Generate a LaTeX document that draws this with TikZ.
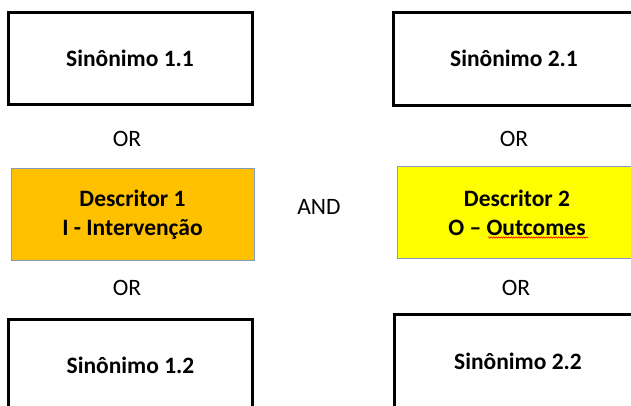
\documentclass[tikz,border=0pt]{standalone}
\usepackage{fontspec}
\setmainfont{Carlito}
\usetikzlibrary{decorations.pathmorphing}
\definecolor{descorange}{HTML}{FFC000}
\definecolor{descyellow}{HTML}{FFFF00}
\definecolor{descborder}{HTML}{8499BD}
\tikzset{
  synbox/.style={draw=black, line width=3pt, fill=white, minimum width=244pt, minimum height=92pt,
    inner sep=0pt, font=\fontsize{23.5}{28}\selectfont\bfseries, align=center},
  descbox/.style={draw=descborder, line width=1pt, minimum width=243pt, minimum height=92pt,
    inner sep=0pt, font=\fontsize{23.5}{29}\selectfont\bfseries, align=center},
  oplabel/.style={font=\fontsize{23.5}{28}\selectfont, inner sep=0pt}
}
\begin{document}
\begin{tikzpicture}[x=1pt,y=-1pt]
\useasboundingbox (0,0) rectangle (631,405);
\clip (0,0) rectangle (631,405);
\fill[white] (0,0) rectangle (631,405);
\node[synbox] (s11) at (130,58.5) {Sinônimo 1.1};
\node[synbox, minimum width=241pt, minimum height=93pt] (s21) at (514,58.5) {Sinônimo 2.1};
\node[descbox, fill=descorange] (d1) at (132.5,214.5) {Descritor 1\\I - Intervenção};
\node[descbox, fill=descyellow, minimum width=240pt] (d2) at (517,212.5) {Descritor 2\\O -- Outcomes};
\node[synbox] (s12) at (130.5,365) {Sinônimo 1.2};
\node[synbox, minimum width=247pt, minimum height=93pt] (s22) at (518,361) {Sinônimo 2.2};
\node[oplabel] (or1) at (127,139) {OR};
\node[oplabel] (or2) at (514,139) {OR};
\node[oplabel] (and) at (319,207) {AND};
\node[oplabel] (or3) at (127,288) {OR};
\node[oplabel] (or4) at (516,288) {OR};
\coordinate (sq1) at (488,237.5);
\coordinate (sq2) at (588,237.5);
\draw[red, line width=0.6pt, decorate, decoration={snake, amplitude=0.7pt, segment length=2.5pt}] (sq1) -- (sq2);
\end{tikzpicture}
\end{document}
